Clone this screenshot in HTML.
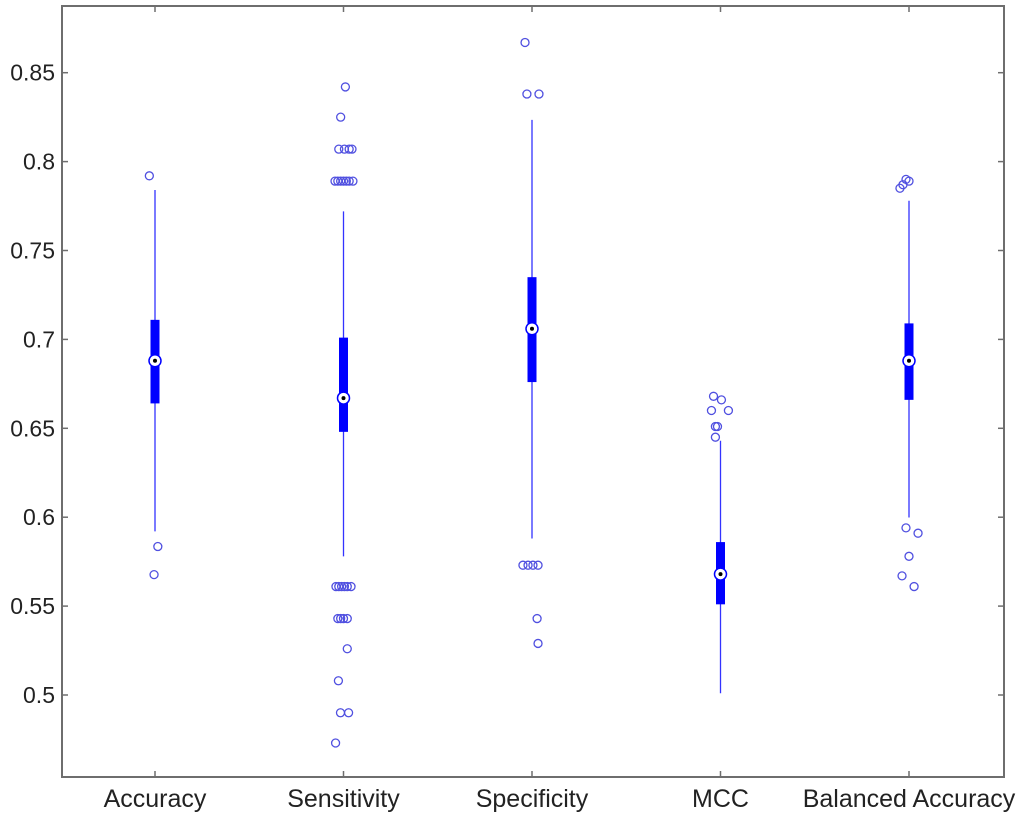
<!DOCTYPE html>
<html><head><meta charset="utf-8"><style>
html,body{margin:0;padding:0;background:#fff;}
svg{display:block;font-family:"Liberation Sans",Arial,sans-serif;}
</style></head><body>
<svg id="chart" width="1024" height="817" viewBox="0 0 1024 817" xmlns="http://www.w3.org/2000/svg">
<rect x="62" y="6" width="942" height="771" fill="#fff" stroke="#6e6e6e" stroke-width="2"/>
<g id="yaxis"></g>
<g id="xaxis"></g>
<g id="marks"></g>
</svg>
<script>
const categories = ["Accuracy","Sensitivity","Specificity","MCC","Balanced Accuracy"];
const yTicks = [0.5,0.55,0.6,0.65,0.7,0.75,0.8,0.85];
const yTickLabels = ["0.5","0.55","0.6","0.65","0.7","0.75","0.8","0.85"];
const whiskerHigh = [0.784,0.772,0.8235,0.643,0.778];
const q3 = [0.711,0.701,0.735,0.586,0.709];
const medians = [0.688,0.667,0.706,0.568,0.688];
const q1 = [0.664,0.648,0.676,0.551,0.666];
const whiskerLow = [0.592,0.578,0.588,0.501,0.5998];
// outliers: [categoryIndex, value, jitter (category units)]
const outliers = [
 [0,0.792,-0.03],[0,0.5835,0.015],[0,0.5677,-0.005],
 [1,0.842,0.01],[1,0.825,-0.015],
 [1,0.807,-0.025],[1,0.807,0.005],[1,0.807,0.03],[1,0.807,0.045],
 [1,0.789,-0.045],[1,0.789,-0.03],[1,0.789,-0.015],[1,0.789,0],[1,0.789,0.015],[1,0.789,0.03],[1,0.789,0.05],
 [1,0.561,-0.04],[1,0.561,-0.025],[1,0.561,-0.01],[1,0.561,0.005],[1,0.561,0.02],[1,0.561,0.04],
 [1,0.543,-0.03],[1,0.543,-0.015],[1,0.543,0],[1,0.543,0.02],
 [1,0.526,0.02],[1,0.508,-0.027],[1,0.490,-0.016],[1,0.490,0.027],[1,0.473,-0.042],
 [2,0.867,-0.037],[2,0.838,-0.027],[2,0.838,0.037],
 [2,0.573,-0.048],[2,0.573,-0.021],[2,0.573,0.005],[2,0.573,0.032],
 [2,0.543,0.027],[2,0.529,0.032],
 [3,0.668,-0.037],[3,0.666,0.005],[3,0.660,-0.048],[3,0.660,0.042],
 [3,0.651,-0.027],[3,0.651,-0.016],[3,0.645,-0.027],
 [4,0.790,-0.016],[4,0.789,0],[4,0.787,-0.032],[4,0.785,-0.048],
 [4,0.594,-0.016],[4,0.591,0.048],[4,0.578,0],[4,0.567,-0.037],[4,0.561,0.027]
];
const NS="http://www.w3.org/2000/svg";
function y(v){return 695-(v-0.5)*1778;}
function x(i){return 155+i*188.5;}
function mk(tag,attrs,parent){const e=document.createElementNS(NS,tag);for(const k in attrs)e.setAttribute(k,attrs[k]);parent.appendChild(e);return e;}
const ya=document.getElementById('yaxis'),xa=document.getElementById('xaxis'),mg=document.getElementById('marks');
yTicks.forEach((t,i)=>{
 const l=mk('line',{x1:62,x2:68,y1:y(t),y2:y(t),stroke:'#6e6e6e','stroke-width':1.5},ya);
 
 
 const r=mk('line',{x1:998,x2:1004,y1:y(t),y2:y(t),stroke:'#6e6e6e','stroke-width':1.5},ya);
 
 
 const tx=mk('text',{x:55,y:y(t)+8,'text-anchor':'end','font-size':23,fill:'#222'},ya);
 tx.textContent=yTickLabels[i];
 
 
});
categories.forEach((c,i)=>{
 const l=mk('line',{x1:x(i),x2:x(i),y1:771,y2:777,stroke:'#6e6e6e','stroke-width':1.5},xa);
 
 
 const t=mk('line',{x1:x(i),x2:x(i),y1:6,y2:12,stroke:'#6e6e6e','stroke-width':1.5},xa);
 
 
 const tx=mk('text',{x:x(i),y:807,'text-anchor':'middle','font-size':25,fill:'#222'},xa);
 tx.textContent=c;
 
 
 const g=mk('g',{},mg);
 
 
 const w=mk('line',{x1:x(i),x2:x(i),y1:y(whiskerHigh[i]),y2:y(whiskerLow[i]),stroke:'#3333ff','stroke-width':1.3},g);
 
 
 const b=mk('rect',{x:x(i)-4.5,y:y(q3[i]),width:9,height:y(q1[i])-y(q3[i]),fill:'#0000ff'},g);
 
 
 const m=mk('circle',{cx:x(i),cy:y(medians[i]),r:6,fill:'#fff',stroke:'#0000ff','stroke-width':1.5},g);
 
 
 const d=mk('circle',{cx:x(i),cy:y(medians[i]),r:2,fill:'#000'},g);
 
 
});
outliers.forEach(o=>{
 const c=mk('circle',{cx:x(o[0]+o[2]),cy:y(o[1]),r:4,fill:'none',stroke:'#5050e0','stroke-width':1.3},mg);
 
 
});
</script>
</body></html>
